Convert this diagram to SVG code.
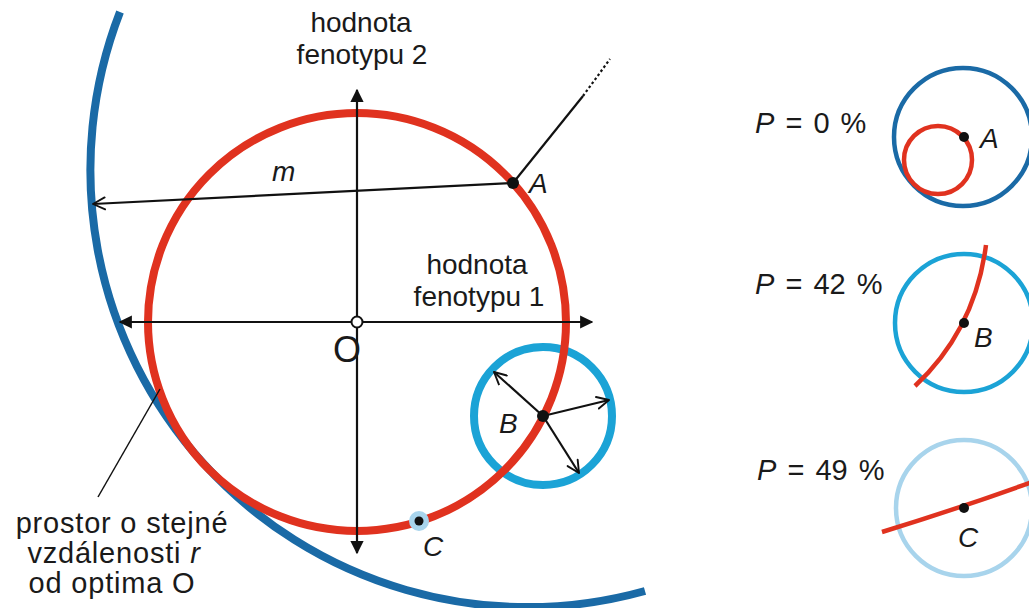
<svg xmlns="http://www.w3.org/2000/svg" width="1029" height="608" viewBox="0 0 1029 608">
<style>
text{font-family:"Liberation Sans",Arial,sans-serif;fill:#1a1a1a}
.t{font-size:28px}
.p{font-size:29px;word-spacing:3px}
.q{font-size:29px;letter-spacing:0.8px}
.i{font-style:italic}
.red{fill:none;stroke:#e0321f}
.ln{fill:none;stroke:#111;stroke-width:2.2}
.dot{fill:#111}
</style>
<defs>
<marker id="tri" viewBox="0 0 10 10" refX="9" refY="5" markerWidth="6" markerHeight="6" markerUnits="strokeWidth" orient="auto-start-reverse">
<path d="M0,0 L10,5 L0,10 z" fill="#111"/>
</marker>
<marker id="chev" viewBox="0 0 12 12" refX="11" refY="6" markerWidth="6.5" markerHeight="6.5" markerUnits="strokeWidth" orient="auto">
<path d="M1,1 L11,6 L1,11" fill="none" stroke="#111" stroke-width="1.6" stroke-linecap="round" stroke-linejoin="round"/>
</marker>
</defs>
<rect width="1029" height="608" fill="#fff"/>

<g id="big-arc">
<path d="M120,12 A437,437 0 0 0 645,591" fill="none" stroke="#1a6aa6" stroke-width="8"/>
</g>

<g id="circle-B">
<circle cx="543" cy="416" r="69" fill="none" stroke="#1ba3d6" stroke-width="8"/>
</g>

<g id="red-circle">
<circle cx="357" cy="322" r="209" class="red" stroke-width="8"/>
</g>

<g id="connectors">
<line x1="357" y1="553" x2="357" y2="90" class="ln" marker-start="url(#tri)" marker-end="url(#tri)"/>
<line x1="120" y1="322" x2="592" y2="322" class="ln" marker-start="url(#tri)" marker-end="url(#tri)"/>
<line x1="513" y1="183" x2="93" y2="204" class="ln" stroke-width="2.4" marker-end="url(#chev)"/>
<line x1="513" y1="183" x2="583" y2="96" class="ln" stroke-width="2.6"/>
<line x1="583" y1="96" x2="610" y2="59" class="ln" stroke-width="2.6" stroke-dasharray="2.5 2.5"/>
<line x1="543" y1="416" x2="494" y2="372" class="ln" stroke-width="2.4" marker-end="url(#chev)"/>
<line x1="543" y1="416" x2="609" y2="400" class="ln" stroke-width="2.4" marker-end="url(#chev)"/>
<line x1="543" y1="416" x2="579" y2="473" class="ln" stroke-width="2.4" marker-end="url(#chev)"/>
<line x1="98" y1="497" x2="160" y2="389" stroke="#111" stroke-width="1.5"/>
</g>

<g id="node-O">
<circle cx="357" cy="322" r="5.5" fill="#fff" stroke="#111" stroke-width="2"/>
<text x="333" y="362" font-size="36">O</text>
</g>
<g id="node-A">
<circle cx="513" cy="183" r="6" class="dot"/>
<text x="529" y="193" class="t i">A</text>
<text x="272" y="181" class="t i">m</text>
</g>
<g id="node-B">
<circle cx="543" cy="416" r="6" class="dot"/>
<text x="499" y="433" class="t i">B</text>
</g>
<g id="node-C">
<circle cx="419" cy="521" r="10" fill="#a8d4ec"/>
<circle cx="419" cy="521" r="4.5" class="dot"/>
<text x="423" y="556" class="t i">C</text>
</g>

<g id="labels">
<text x="361" y="32" class="t" text-anchor="middle">hodnota</text>
<text x="362" y="64" class="t" text-anchor="middle">fenotypu 2</text>
<text x="477" y="274" class="t" text-anchor="middle">hodnota</text>
<text x="479" y="306" class="t" text-anchor="middle">fenotypu 1</text>
<text x="122" y="533" class="q" text-anchor="middle">prostor o stejné</text>
<text x="114" y="563" class="q" text-anchor="middle">vzdálenosti <tspan class="i">r</tspan></text>
<text x="112" y="593" class="q" text-anchor="middle">od optima O</text>
</g>

<g id="panel-0">
<text x="755" y="133" class="p"><tspan class="i">P</tspan> = 0 %</text>
<circle cx="963" cy="137" r="69" fill="none" stroke="#1a6aa6" stroke-width="4.5"/>
<circle cx="938" cy="160" r="34" class="red" stroke-width="4.5"/>
<circle cx="964" cy="137" r="5" class="dot"/>
<text x="980" y="148" class="t i">A</text>
</g>
<g id="panel-42">
<text x="755" y="294" class="p"><tspan class="i">P</tspan> = 42 %</text>
<circle cx="964" cy="323" r="69" fill="none" stroke="#1ba3d6" stroke-width="4.5"/>
<path d="M986,245 Q975,330 915,386" class="red" stroke-width="4.5"/>
<circle cx="964" cy="323" r="5" class="dot"/>
<text x="974" y="347" class="t i">B</text>
</g>
<g id="panel-49">
<text x="757" y="480" class="p"><tspan class="i">P</tspan> = 49 %</text>
<circle cx="964" cy="508" r="68" fill="none" stroke="#a8d4ec" stroke-width="4.5"/>
<path d="M882,532 Q960,508 1032,482" class="red" stroke-width="4.5"/>
<circle cx="964" cy="508" r="5" class="dot"/>
<text x="958" y="547" class="t i">C</text>
</g>
</svg>
